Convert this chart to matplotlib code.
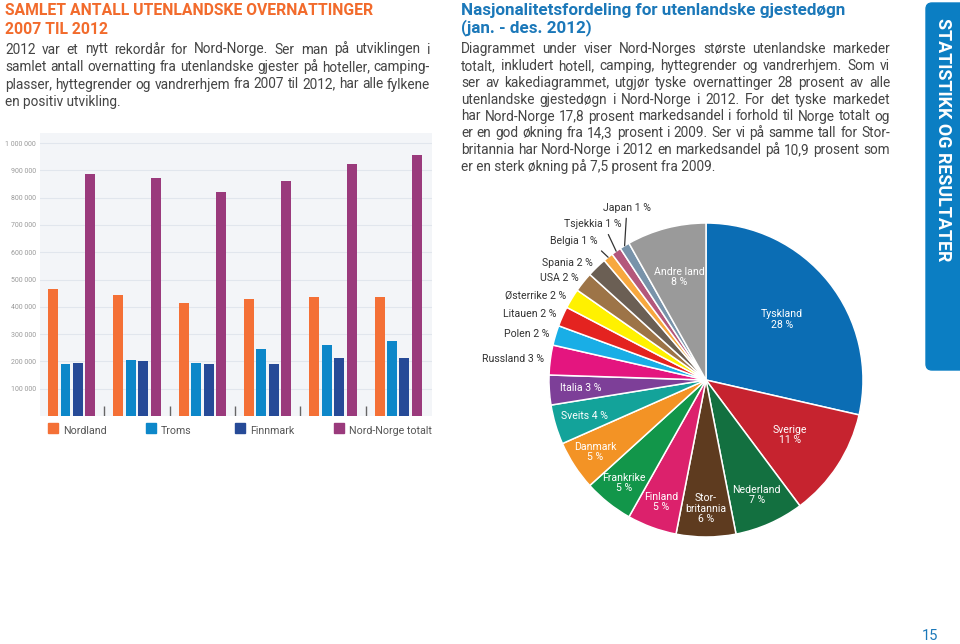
import matplotlib
matplotlib.use("Agg")
import matplotlib.pyplot as plt
import numpy as np
from matplotlib.patches import FancyBboxPatch, Rectangle
from matplotlib.transforms import IdentityTransform

# ---------------- data ----------------
years = [2007, 2008, 2009, 2010, 2011, 2012]
regions = ["Nordland", "Troms", "Finnmark", "Nord-Norge totalt"]
nordland = [467000, 444000, 413000, 428000, 435000, 435000]
troms = [189000, 207000, 193000, 246000, 259000, 273000]
finnmark = [193000, 202000, 189000, 189000, 212000, 212000]
totalt = [885000, 872000, 820000, 860000, 924000, 955000]
ytick_vals = [100000, 200000, 300000, 400000, 500000, 600000, 700000, 800000, 900000, 1000000]
ytick_labels = ["100 000", "200 000", "300 000", "400 000", "500 000",
                "600 000", "700 000", "800 000", "900 000", "1 000 000"]

countries = ["Tyskland", "Sverige", "Nederland", "Stor-britannia", "Finland",
             "Frankrike", "Danmark", "Sveits", "Italia", "Russland", "Polen",
             "Litauen", "Østerrike", "USA", "Spania", "Belgia", "Tsjekkia",
             "Japan", "Andre land"]
shares = [28, 11, 7, 6, 5, 5, 5, 4, 3, 3, 2, 2, 2, 2, 2, 1, 1, 1, 8]

# ---------------- style ----------------
W, H = 960, 644
fig = plt.figure(figsize=(W / 100, H / 100), dpi=100)
fig.patch.set_facecolor("white")
renderer = fig.canvas.get_renderer()
FONT = ["Roboto", "DejaVu Sans"]
BODY = "#444444"
ORANGE = "#f26b2c"
BLUE_T = "#1b78b9"

bar_colors = ["#f47036", "#0d87c9", "#264a97", "#9a3a7c"]
pie_colors = ["#0b6db4", "#c6232f", "#137040", "#5e3b1f", "#dc216c",
              "#12964a", "#f39325", "#13a39a", "#7d3f98", "#e4157f",
              "#19aee6", "#e42320", "#fff100", "#9d7447", "#6b5f54",
              "#f7a83f", "#b4577b", "#7893aa", "#9a9a9a"]


def ptext(x, y, s, **kw):
    kw.setdefault("family", FONT)
    return fig.text(x / W, 1 - y / H, s, **kw)


def width(t):
    return t.get_window_extent(renderer).width


def fit(t, target):
    t.set_fontsize(t.get_fontsize() * target / width(t))


def paragraph(lines, x0, x1, y0, dy, base=10, **kw):
    tmp = [ptext(x0, y0, l, fontsize=base, **kw) for l in lines[:-1]]
    scale = min((x1 - x0) / width(t) for t in tmp)
    for t in tmp:
        t.remove()
    size = base * scale * 0.995
    for i, line in enumerate(lines):
        y = y0 + i * dy
        words = line.split(" ")
        if i == len(lines) - 1:
            ptext(x0, y, line, fontsize=size, va="baseline", **kw)
            continue
        ts = [ptext(x0, y, w, fontsize=size, va="baseline", **kw) for w in words]
        ws = [width(t) for t in ts]
        gap = (x1 - x0 - sum(ws)) / (len(words) - 1)
        xx = x0
        for t, w in zip(ts, ws):
            t.set_x(xx / W)
            xx += w + gap


# ---------------- left texts ----------------
t = ptext(5, 15, "SAMLET ANTALL UTENLANDSKE OVERNATTINGER", color=ORANGE,
          fontweight="bold", fontsize=12, va="baseline")
fit(t, 367)
ptext(5, 34, "2007 TIL 2012", color=ORANGE, fontweight="bold",
      fontsize=t.get_fontsize(), va="baseline")
paragraph(["2012 var et nytt rekordår for Nord-Norge. Ser man på utviklingen i",
           "samlet antall overnatting fra utenlandske gjester på hoteller, camping-",
           "plasser, hyttegrender og vandrerhjem fra 2007 til 2012, har alle fylkene",
           "en positiv utvikling."], 5, 430, 53.5, 17.5, color=BODY)

# ---------------- bar chart ----------------
ax = fig.add_axes([40 / W, 1 - 416 / H, 392 / W, 283 / H])
ax.set_facecolor("#f3f5f8")
for s in ax.spines.values():
    s.set_visible(False)
x = np.arange(len(years))
pitch, bw = 0.191, 0.153
series = [nordland, troms, finnmark, totalt]
for k, (vals, c) in enumerate(zip(series, bar_colors)):
    ax.bar(x + (k - 1.5) * pitch, vals, width=bw, color=c, zorder=3)
ax.vlines(x[:-1] + 0.5, 0, 37000, color="#666666", lw=1, zorder=3)
ax.set_xlim(-0.486, len(years) - 1 + 0.517)
ax.set_ylim(0, 1037000)
ax.set_xticks([])
ax.set_yticks(ytick_vals, ytick_labels)
ax.tick_params(axis="y", length=0, pad=3, labelsize=5, labelcolor="#9a9a9a")
for lab in ax.get_yticklabels():
    lab.set_family(FONT)
ax.yaxis.grid(True, color="#e1e6ed", lw=0.8, zorder=0)
ax.set_axisbelow(True)

# legend
leg_x = [48, 146, 235, 334]
for lx, name, c in zip(leg_x, regions, bar_colors):
    fig.patches.append(Rectangle((lx, H - 433), 10, 10, color=c,
                                 transform=IdentityTransform(), figure=fig))
    ptext(lx + 15, 431, name, fontsize=7.7, color="#555555", va="center")

# ---------------- right texts ----------------
t = ptext(461, 15, "Nasjonalitetsfordeling for utenlandske gjestedøgn", color=BLUE_T,
          fontweight="bold", fontsize=12, va="baseline")
fit(t, 385)
ptext(461, 32, "(jan. - des. 2012)", color=BLUE_T, fontweight="bold",
      fontsize=t.get_fontsize(), va="baseline")
paragraph(["Diagrammet under viser Nord-Norges største utenlandske markeder",
           "totalt, inkludert hotell, camping, hyttegrender og vandrerhjem. Som vi",
           "ser av kakediagrammet, utgjør tyske overnattinger 28 prosent av alle",
           "utenlandske gjestedøgn i Nord-Norge i 2012. For det tyske markedet",
           "har Nord-Norge 17,8 prosent markedsandel i forhold til Norge totalt og",
           "er en god økning fra 14,3 prosent i 2009. Ser vi på samme tall for Stor-",
           "britannia har Nord-Norge i 2012 en markedsandel på 10,9 prosent som",
           "er en sterk økning på 7,5 prosent fra 2009."], 461, 890, 53.3, 16.8,
          color=BODY)

# ---------------- pie ----------------
cx, cy, R = 706, 380, 157
pax = fig.add_axes([(cx - R) / W, 1 - (cy + R) / H, 2 * R / W, 2 * R / H])
wedges, _ = pax.pie(shares, colors=pie_colors, startangle=90, counterclock=False,
                    radius=1, wedgeprops=dict(edgecolor="white", linewidth=1.1))
pax.set_xlim(-1, 1)
pax.set_ylim(-1, 1)
pax.axis("off")

display = {"Stor-britannia": "Stor-\nbritannia"}
# label layout: ("in", r, one_line) / ("out", r) / ("lead", dx, dy, relx)
layout = [("in", 0.62, False), ("in", 0.64, False), ("in", 0.80, False),
          ("in", 0.82, False), ("in", 0.83, False), ("in", 0.84, False),
          ("in", 0.84, False), ("in", 0.81, True), ("in", 0.80, True),
          ("out", 1.04), ("out", 1.04), ("out", 1.04), ("out", 1.04),
          ("out", 1.04), ("out", 1.04),
          ("lead", -34, 16, 0.97), ("lead", -23, 27, 0.72), ("lead", 2, 38, 0.5),
          ("in", 0.68, False)]
LBL = 7.6
for w, name, sh, lay in zip(wedges, countries, shares, layout):
    th = np.deg2rad((w.theta1 + w.theta2) / 2)
    ux, uy = np.cos(th), np.sin(th)
    if lay[0] == "in":
        r = lay[1]
        nm = display.get(name, name)
        s = f"{nm} {sh} %" if lay[2] else f"{nm}\n{sh} %"
        pax.text(r * ux, r * uy, s, ha="center", va="center", color="white",
                 fontsize=LBL, family=FONT, linespacing=1.05)
    elif lay[0] == "out":
        r = lay[1]
        pax.text(r * ux, r * uy, f"{name} {sh} %", ha="right", va="center",
                 color="#333333", fontsize=LBL, family=FONT)
    else:
        pax.annotate(f"{name} {sh} %", xy=(ux, uy), xytext=(lay[1], lay[2]),
                     textcoords="offset pixels", ha="center", va="center",
                     color="#333333", fontsize=LBL, family=FONT,
                     arrowprops=dict(arrowstyle="-", color="#333333", lw=0.9,
                                     shrinkA=2, shrinkB=0, relpos=(lay[3], 0)),
                     annotation_clip=False)

# ---------------- side tab & page number ----------------
fig.patches.append(FancyBboxPatch((926, H - 370), 45, 367,
                                  boxstyle="round,pad=0,rounding_size=6",
                                  color="#0b7ec3", transform=IdentityTransform(),
                                  figure=fig))
t = ptext(943, 140, "STATISTIKK OG RESULTATER", color="white", fontweight="bold",
          fontsize=12, rotation=-90, ha="center", va="center")
t.set_fontsize(12 * 244 / t.get_window_extent(renderer).height)
ptext(930, 640, "15", color=BLUE_T, fontsize=10.5, ha="center", va="baseline")

fig.savefig("out.png", dpi=100)
